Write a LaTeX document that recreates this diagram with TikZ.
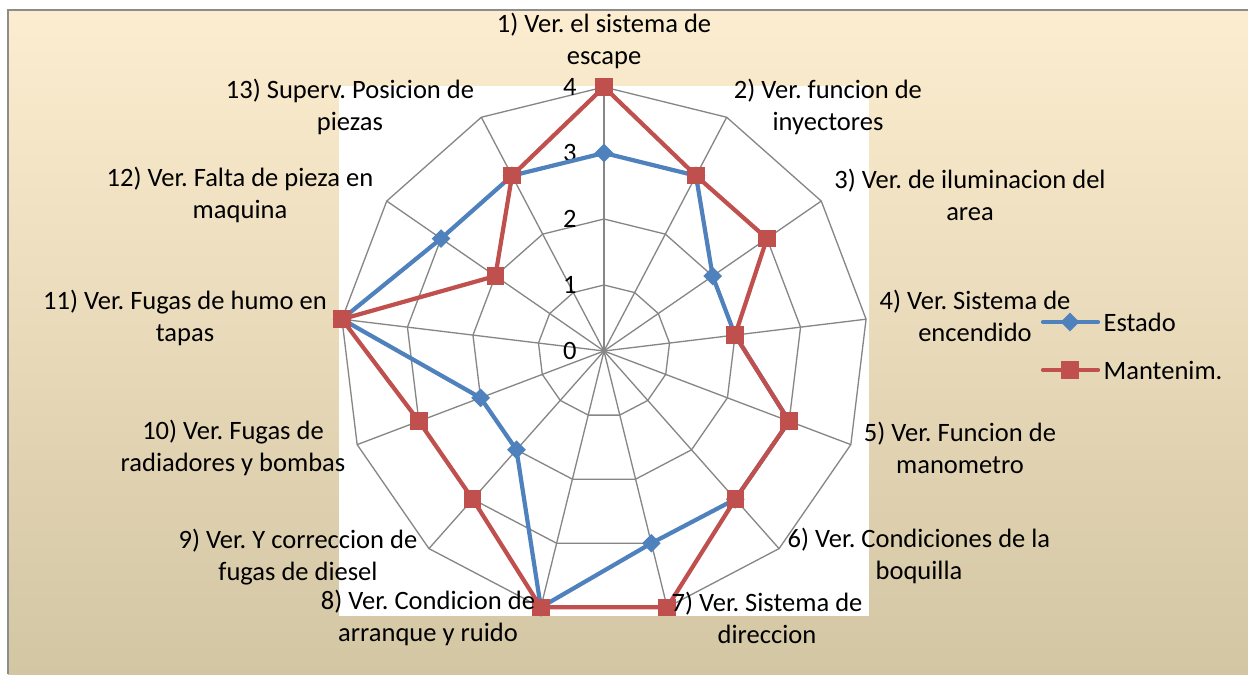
\documentclass[tikz,border=0pt]{standalone}
\usepackage{fontspec}
\setmainfont{Carlito}
\frenchspacing
\usetikzlibrary{positioning,shapes.geometric}

\definecolor{azul}{RGB}{79,129,189}
\definecolor{rojo}{RGB}{192,80,77}
\definecolor{gris}{RGB}{134,134,134}
\definecolor{marco}{RGB}{140,140,140}
\definecolor{fondoarriba}{RGB}{253,237,208}
\definecolor{fondomedio}{RGB}{245,235,212}
\definecolor{fondoabajo}{RGB}{211,198,163}

\tikzset{
  estado/.style={diamond,fill=azul,inner sep=0pt,minimum size=0.38cm},
  mantenim/.style={rectangle,fill=rojo,inner sep=0pt,minimum size=0.35cm},
  serieE/.style={draw=azul,line width=2.4pt,line join=round},
  serieM/.style={draw=rojo,line width=2.4pt,line join=round},
  rejilla/.style={draw=gris,line width=0.75pt},
  texto/.style={align=center,inner sep=0pt,font=\fontsize{15.1}{18.2}\selectfont},
}

\begin{document}
\begin{tikzpicture}[x=0.02cm,y=-0.02cm]

        \useasboundingbox (0,0) rectangle (1248,674);
        \shade[top color=fondoarriba,middle color=fondomedio,bottom color=fondoabajo]
              (8,10) rectangle (1248,674);
        \draw[marco,line width=0.9pt] (1248,10) -- (8,10) -- (8,674);
        \fill[white] (339,86) rectangle (869,616);

        \begin{scope}[shift={(604,351)}]
          \coordinate (O) at (0,0);
          \foreach \r in {1,...,4}
            \draw[rejilla] (-90:\r*66) \foreach \k in {1,...,12} { -- ({-90+\k*360/13}:\r*66) } -- cycle;
          \foreach \k in {1,...,13}
            \coordinate (A\k) at ({-90+(\k-1)*360/13}:264);
          \foreach \k in {1,...,13}
            \draw[rejilla] (O) -- (A\k);
          \draw[rejilla,line width=1pt] (O) -- (A1);

          \foreach \v in {0,...,4}
            \node[texto,anchor=east] (V\v) at (-27,-\v*66) {\v};

          \foreach \k/\e/\m in {1/3/4,2/3/3,3/2/3,4/2/2,5/3/3,6/3/3,7/3/4,
                                8/4/4,9/2/3,10/2/3,11/4/4,12/3/2,13/3/3}
          {
            \coordinate (E\k) at ({-90+(\k-1)*360/13}:\e*66);
            \coordinate (M\k) at ({-90+(\k-1)*360/13}:\m*66);
          }

          \draw[serieE] (E1) -- (E2) -- (E3) -- (E4) -- (E5) -- (E6) -- (E7)
                     -- (E8) -- (E9) -- (E10) -- (E11) -- (E12) -- (E13) -- cycle;
          \foreach \k in {1,...,13}
            \node[estado] (dE\k) at (E\k) {};

          \draw[serieM] (M1) -- (M2) -- (M3) -- (M4) -- (M5) -- (M6) -- (M7)
                     -- (M8) -- (M9) -- (M10) -- (M11) -- (M12) -- (M13) -- cycle;
          \foreach \k in {1,...,13}
            \node[mantenim] (cM\k) at (M\k) {};
        \end{scope}

        \node[texto] (L1)  at (604,41)  {1) Ver. el sistema de\\escape};
        \node[texto] (L2)  at (828,107) {2) Ver. funcion de\\inyectores};
        \node[texto] (L3)  at (970,195) {3) Ver. de iluminacion del\\area};
        \node[texto] (L4)  at (975,316) {4) Ver. Sistema de\\encendido};
        \node[texto] (L5)  at (960,448) {5) Ver. Funcion de\\manometro};
        \node[texto] (L6)  at (919,556) {6) Ver. Condiciones de la\\boquilla};
        \node[texto] (L7)  at (767,618) {7) Ver. Sistema de\\direccion};
        \node[texto] (L8)  at (428,618) {8) Ver. Condicion de\\arranque y ruido};
        \node[texto] (L9)  at (298,557) {9) Ver. Y correccion de\\fugas de diesel};
        \node[texto] (L10) at (233,448) {10) Ver. Fugas de\\radiadores y bombas};
        \node[texto] (L11) at (185,318) {11) Ver. Fugas de humo en\\tapas};
        \node[texto] (L12) at (240,195) {12) Ver. Falta de pieza en\\maquina};
        \node[texto] (L13) at (350,107) {13) Superv. Posicion de\\piezas};

        \coordinate (KE1) at (1043,322);
        \coordinate (KE2) at (1098,322);
        \coordinate (KM1) at (1043,370);
        \coordinate (KM2) at (1098,370);
        \draw[serieE,line cap=round] (KE1) -- (KE2);
        \node[estado] (KE) at (1070,322) {};
        \node[texto] (TE) [right=3pt of KE2] {Estado};
        \draw[serieM,line cap=round] (KM1) -- (KM2);
        \node[mantenim] (KM) at (1070,370) {};
        \node[texto] (TM) [right=3pt of KM2] {Mantenim.};

\end{tikzpicture}
\end{document}
